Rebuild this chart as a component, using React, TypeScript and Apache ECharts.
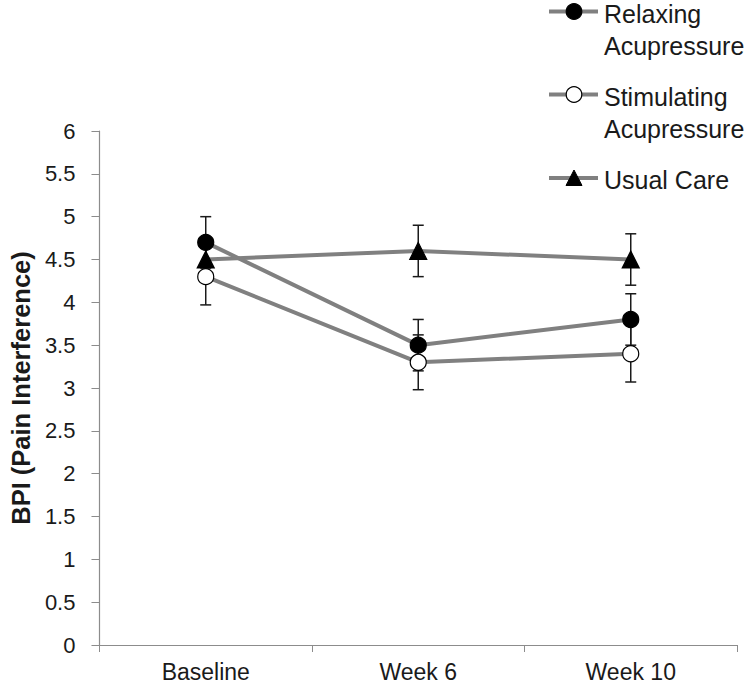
import React, { useEffect, useRef } from "react";
import * as echarts from "echarts";

const categories = ["Baseline", "Week 6", "Week 10"];
const seriesNames = ["Relaxing Acupressure", "Stimulating Acupressure", "Usual Care"];
const relaxing = [4.7, 3.5, 3.8];
const stimulating = [4.3, 3.3, 3.4];
const usualCare = [4.5, 4.6, 4.5];
const relaxingErr = [0.3, 0.3, 0.3];
const stimulatingErr = [0.33, 0.32, 0.33];
const usualCareErr = [0.22, 0.3, 0.3];
const yTicks = [0, 0.5, 1, 1.5, 2, 2.5, 3, 3.5, 4, 4.5, 5, 5.5, 6];

const FONT = "'Liberation Sans', Arial, sans-serif";
const LINE_GRAY = "#808080";

function errData(vals: number[], errs: number[]) {
  return vals.map((v, i) => [i, v - errs[i], v + errs[i]]);
}

export default function App() {
  const ref = useRef<HTMLDivElement>(null);
  useEffect(() => {
    if (!ref.current) return;
    const chart = echarts.init(ref.current, undefined, { renderer: "svg" });

    const errorSeries = (name: string, vals: number[], errs: number[]) => ({
      type: "custom",
      name: name + " error",
      z: 1,
      silent: true,
      data: errData(vals, errs),
      renderItem: (params: any, api: any) => {
        const x = api.value(0);
        const lo = api.coord([x, api.value(1)]);
        const hi = api.coord([x, api.value(2)]);
        const half = 5.5;
        const style = { stroke: "#1a1a1a", lineWidth: 1.5 };
        return {
          type: "group",
          children: [
            { type: "line", shape: { x1: lo[0], y1: lo[1], x2: hi[0], y2: hi[1] }, style },
            { type: "line", shape: { x1: lo[0] - half, y1: lo[1], x2: lo[0] + half, y2: lo[1] }, style },
            { type: "line", shape: { x1: hi[0] - half, y1: hi[1], x2: hi[0] + half, y2: hi[1] }, style },
          ],
        };
      },
    });

    const lineSeries = (name: string, vals: number[], symbol: string, fill: string, size: number) => ({
      type: "line",
      name,
      z: 3,
      data: vals,
      symbol,
      symbolSize: size,
      showAllSymbol: true,
      lineStyle: { color: LINE_GRAY, width: 4 },
      itemStyle: { color: fill, borderColor: "#000", borderWidth: 1.2, opacity: 1 },
    });

    const legendItems = [
      { y: 11.5, symbol: "circle", fill: "#000", text: "Relaxing\nAcupressure" },
      { y: 94.5, symbol: "circle", fill: "#fff", text: "Stimulating\nAcupressure" },
      { y: 178, symbol: "triangle", fill: "#000", text: "Usual Care" },
    ];

    const graphics: any[] = [];
    legendItems.forEach((it) => {
      graphics.push({
        type: "line",
        shape: { x1: 549, y1: it.y, x2: 598, y2: it.y },
        style: { stroke: LINE_GRAY, lineWidth: 4 },
      });
      if (it.symbol === "circle") {
        graphics.push({
          type: "circle",
          shape: { cx: 574, cy: it.y, r: 7.8 },
          style: { fill: it.fill, stroke: "#000", lineWidth: 1.2 },
        });
      } else {
        graphics.push({
          type: "polygon",
          shape: { points: [[574, it.y - 8], [582, it.y + 7.5], [566, it.y + 7.5]] },
          style: { fill: "#000", stroke: "#000", lineWidth: 1 },
        });
      }
      graphics.push({
        type: "text",
        x: 604,
        y: it.y - 14,
        style: {
          text: it.text,
          font: `25px ${FONT}`,
          fill: "#1a1a1a",
          lineHeight: 32.5,
          textVerticalAlign: "top",
        },
      });
    });

    chart.setOption({
      animation: false,
      grid: { left: 92, right: 14, top: 131, bottom: 38, containLabel: false },
      xAxis: {
        type: "category",
        data: categories,
        boundaryGap: true,
        axisLine: { lineStyle: { color: "#8c8c8c", width: 1.2 } },
        axisTick: { show: true, length: 7, lineStyle: { color: "#8c8c8c" } },
        axisLabel: { color: "#1a1a1a", fontSize: 23, fontFamily: FONT, margin: 15 },
      },
      yAxis: {
        type: "value",
        min: 0,
        max: 6,
        interval: 0.5,
        name: "BPI (Pain Interference)",
        nameLocation: "middle",
        nameRotate: 90,
        nameGap: 60,
        nameTextStyle: { color: "#1a1a1a", fontSize: 25.5, fontWeight: "bold", fontFamily: FONT },
        axisLine: { show: true, lineStyle: { color: "#8c8c8c", width: 1.2 } },
        axisTick: { show: true, length: 8, lineStyle: { color: "#8c8c8c" } },
        splitLine: { show: false },
        axisLabel: {
          color: "#1a1a1a",
          fontSize: 22,
          fontFamily: FONT,
          margin: 24,
          formatter: (v: number) => (yTicks.includes(v) ? String(v) : ""),
        },
      },
      series: [
        errorSeries(seriesNames[0], relaxing, relaxingErr),
        errorSeries(seriesNames[1], stimulating, stimulatingErr),
        errorSeries(seriesNames[2], usualCare, usualCareErr),
        lineSeries(seriesNames[2], usualCare, "triangle", "#000", 17),
        lineSeries(seriesNames[0], relaxing, "circle", "#000", 16),
        lineSeries(seriesNames[1], stimulating, "circle", "#fff", 16),
      ],
      graphic: graphics,
    });
    return () => chart.dispose();
  }, []);
  return <div ref={ref} style={{ width: 751, height: 683, position: "absolute", left: 0, top: 0, background: "#fff" }} />;
}
